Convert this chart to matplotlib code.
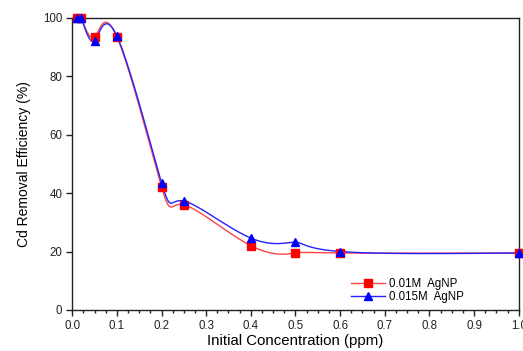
import numpy as np
import matplotlib
matplotlib.use("Agg")
import matplotlib.pyplot as plt
from matplotlib.ticker import MultipleLocator

plt.rcParams['font.family'] = ['Liberation Sans', 'DejaVu Sans']

conc = [0.01, 0.02, 0.05, 0.1, 0.2, 0.25, 0.4, 0.5, 0.6, 1.0]
eff_001 = [100, 100, 93.4, 93.6, 42.2, 36.0, 22.0, 19.5, 19.5, 19.5]
eff_0015 = [100, 100, 92.1, 93.8, 43.6, 37.3, 24.6, 23.2, 20.0, 19.5]
labels = ["0.01M  AgNP", "0.015M  AgNP"]


def spline_coeffs(t, y):
    m = len(t); h = np.diff(t)
    A = np.zeros((m, m)); b = np.zeros(m)
    A[0, 0] = A[-1, -1] = 1
    for i in range(1, m - 1):
        A[i, i - 1] = h[i - 1]; A[i, i] = 2 * (h[i - 1] + h[i]); A[i, i + 1] = h[i]
        b[i] = 3 * ((y[i + 1] - y[i]) / h[i] - (y[i] - y[i - 1]) / h[i - 1])
    return np.linalg.solve(A, b)


def eval_spline(t, y, c, ts):
    h = np.diff(t); m = len(t)
    idx = np.clip(np.searchsorted(t, ts) - 1, 0, m - 2)
    dt = ts - t[idx]
    bb = (y[idx + 1] - y[idx]) / h[idx] - h[idx] * (2 * c[idx] + c[idx + 1]) / 3
    d = (c[idx + 1] - c[idx]) / (3 * h[idx])
    return y[idx] + bb * dt + c[idx] * dt ** 2 + d * dt ** 3


def param_spline(x, y, n=900):
    x = np.asarray(x, float); y = np.asarray(y, float)
    t = np.arange(len(x), dtype=float)
    ts = np.linspace(0, t[-1], n)
    xs = eval_spline(t, x, spline_coeffs(t, x), ts)
    ys = eval_spline(t, y, spline_coeffs(t, y), ts)
    return xs, ys


fig = plt.figure(figsize=(5.23, 3.51), dpi=100)
ax = fig.add_axes([0.138, 0.117, 0.854, 0.832])

for yv, col, lc, mk, lab in [(eff_001, '#ff0000', '#ff4444', 's', labels[0]),
                             (eff_0015, '#0000ff', '#2222ff', '^', labels[1])]:
    xs, ys = param_spline(conc, yv)
    ax.plot(xs, ys, color=lc, lw=1.0, zorder=2)
    ax.plot(conc, yv, linestyle='none', marker=mk, color=col, markersize=5.5, clip_on=False, zorder=3)
    ax.plot([], [], color=lc, lw=1.0, marker=mk, markerfacecolor=col, markeredgecolor=col,
            markersize=5.5, label=lab)

ax.set_xlim(0, 1.0)
ax.set_ylim(0, 100)
ax.xaxis.set_minor_locator(MultipleLocator(0.025))
ax.yaxis.set_major_locator(MultipleLocator(20))
ax.set_xticks(np.arange(0, 1.01, 0.1))
ax.set_xticklabels(['0.0', '0.1', '0.2', '0.3', '0.4', '0.5', '0.6', '0.7', '0.8', '0.9', '1.0'])
ax.tick_params(which='major', direction='out', length=4, width=1, labelsize=8.3, pad=3, colors='#222222')
ax.tick_params(which='minor', direction='out', length=2.5, width=1, colors='#222222')
for s in ax.spines.values():
    s.set_linewidth(1.0)
    s.set_color('#222222')

ax.set_xlabel('Initial Concentration (ppm)', fontsize=10.8, labelpad=2)
ax.set_ylabel('Cd Removal Efficiency (%)', fontsize=10, labelpad=9)

ax.legend(loc='lower left', bbox_to_anchor=(0.6, -0.012), frameon=False, fontsize=8.3,
          handlelength=3.0, handletextpad=0.35, labelspacing=0.1, markerscale=1.0)

fig.savefig('out.png', dpi=100)
